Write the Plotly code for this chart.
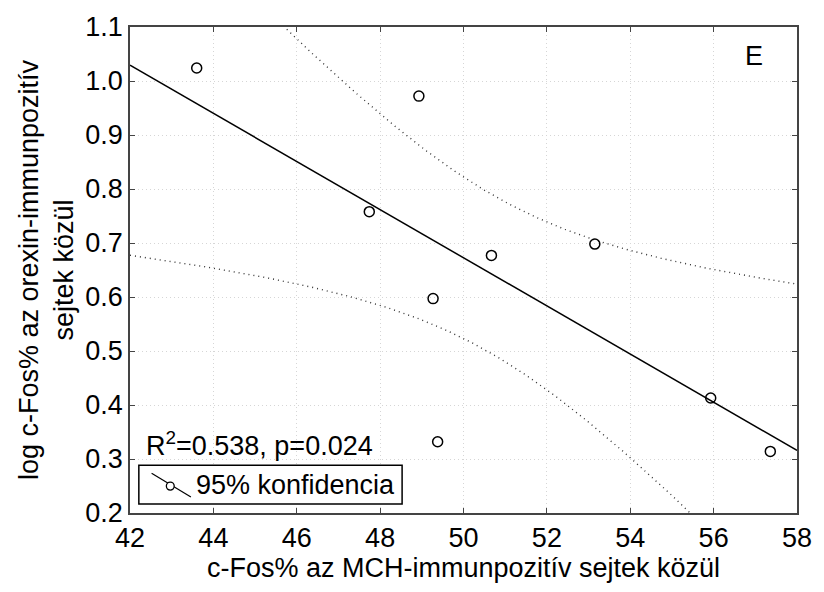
import numpy as np
import plotly.graph_objects as go

# Data
mch_cfos = [43.60, 48.93, 47.74, 50.67, 53.15, 49.27, 49.38, 55.93, 57.36]
orexin_log_cfos = [1.024, 0.972, 0.758, 0.677, 0.698, 0.597, 0.332, 0.413, 0.314]
x_ticks = [42, 44, 46, 48, 50, 52, 54, 56, 58]
y_ticks = [0.2, 0.3, 0.4, 0.5, 0.6, 0.7, 0.8, 0.9, 1.0, 1.1]
y_tick_labels = ["0.2", "0.3", "0.4", "0.5", "0.6", "0.7", "0.8", "0.9", "1.0", "1.1"]
stats_label = "R<sup>2</sup>=0.538, p=0.024"
legend_label = "95% konfidencia"
panel_label = "E"
T_975_DF7 = 2.3646  # Student t quantile for 95% CI, n-2 = 7

x = np.array(mch_cfos)
y = np.array(orexin_log_cfos)
n = len(x)
slope, intercept = np.polyfit(x, y, 1)
xs = np.linspace(42, 58, 300)
yhat = intercept + slope * xs
resid = y - (intercept + slope * x)
s = np.sqrt(np.sum(resid ** 2) / (n - 2))
sxx = np.sum((x - x.mean()) ** 2)
half = T_975_DF7 * s * np.sqrt(1 / n + (xs - x.mean()) ** 2 / sxx)

FONT = "Liberation Sans, Arial, sans-serif"
FS = 27
W, H = 824, 592
L, R, T, B = 130, 809, 25, 513


def px(xp):
    return (xp - L) / (R - L)


def py(yp):
    return (B - yp) / (B - T)


fig = go.Figure()
fig.add_trace(go.Scatter(x=xs, y=yhat + half, mode="lines",
                         line=dict(color="#333", width=1.4, dash="1px,4px"), hoverinfo="skip"))
fig.add_trace(go.Scatter(x=xs, y=yhat - half, mode="lines",
                         line=dict(color="#333", width=1.4, dash="1px,4px"), hoverinfo="skip"))
fig.add_trace(go.Scatter(x=xs, y=yhat, mode="lines",
                         line=dict(color="black", width=1.5)))
fig.add_trace(go.Scatter(x=mch_cfos, y=orexin_log_cfos, mode="markers",
                         marker=dict(symbol="circle-open", size=10, color="black",
                                     line=dict(width=1.5, color="black"))))

axis_common = dict(showline=True, linecolor="#444", linewidth=1.6, mirror="ticks",
                   ticks="inside", ticklen=5, tickcolor="#444", tickwidth=1,
                   showgrid=True, gridcolor="#d6d6d6", griddash="1px,3px", gridwidth=1,
                   zeroline=False, ticklabeloverflow="allow",
                   tickfont=dict(family=FONT, size=FS, color="black"))

fig.update_layout(
    width=W, height=H,
    margin=dict(l=L, r=W - R, t=T, b=H - B),
    paper_bgcolor="white", plot_bgcolor="white",
    showlegend=False,
    font=dict(family=FONT, color="black"),
    xaxis=dict(range=[42, 58], tickvals=x_ticks,
               title=dict(text="c-Fos% az MCH-immunpozitív sejtek közül",
                          font=dict(family=FONT, size=FS), standoff=6),
               **axis_common),
    yaxis=dict(range=[0.2, 1.1], tickvals=y_ticks, ticktext=y_tick_labels,
               title=dict(text="log c-Fos% az orexin-immunpozitív<br>sejtek közül",
                          font=dict(family=FONT, size=FS), standoff=4),
               **axis_common),
)

# stats text
fig.add_annotation(x=px(144), y=py(463), xref="paper", yref="paper", text=stats_label,
                   showarrow=False, xanchor="left", yanchor="bottom",
                   font=dict(family=FONT, size=FS, color="black"))
# legend box
fig.add_shape(type="rect", xref="paper", yref="paper", x0=px(139), x1=px(407),
              y0=py(504), y1=py(465), line=dict(color="black", width=1.5),
              fillcolor="white", layer="above")
fig.add_shape(type="line", xref="paper", yref="paper", x0=px(152), y0=py(473),
              x1=px(192), y1=py(497), line=dict(color="black", width=1.2), layer="above")
fig.add_shape(type="circle", xref="paper", yref="paper", x0=px(167), x1=px(175),
              y0=py(482), y1=py(490), line=dict(color="black", width=1.3),
              fillcolor="white", layer="above")
fig.add_annotation(x=px(195), y=py(485), xref="paper", yref="paper", text=legend_label,
                   showarrow=False, xanchor="left", yanchor="middle",
                   font=dict(family=FONT, size=FS, color="black"))
fig.add_annotation(x=px(765), y=py(54), xref="paper", yref="paper", text=panel_label,
                   showarrow=False, xanchor="center", yanchor="middle",
                   font=dict(family=FONT, size=FS, color="black"))

fig.write_html("out.html")
